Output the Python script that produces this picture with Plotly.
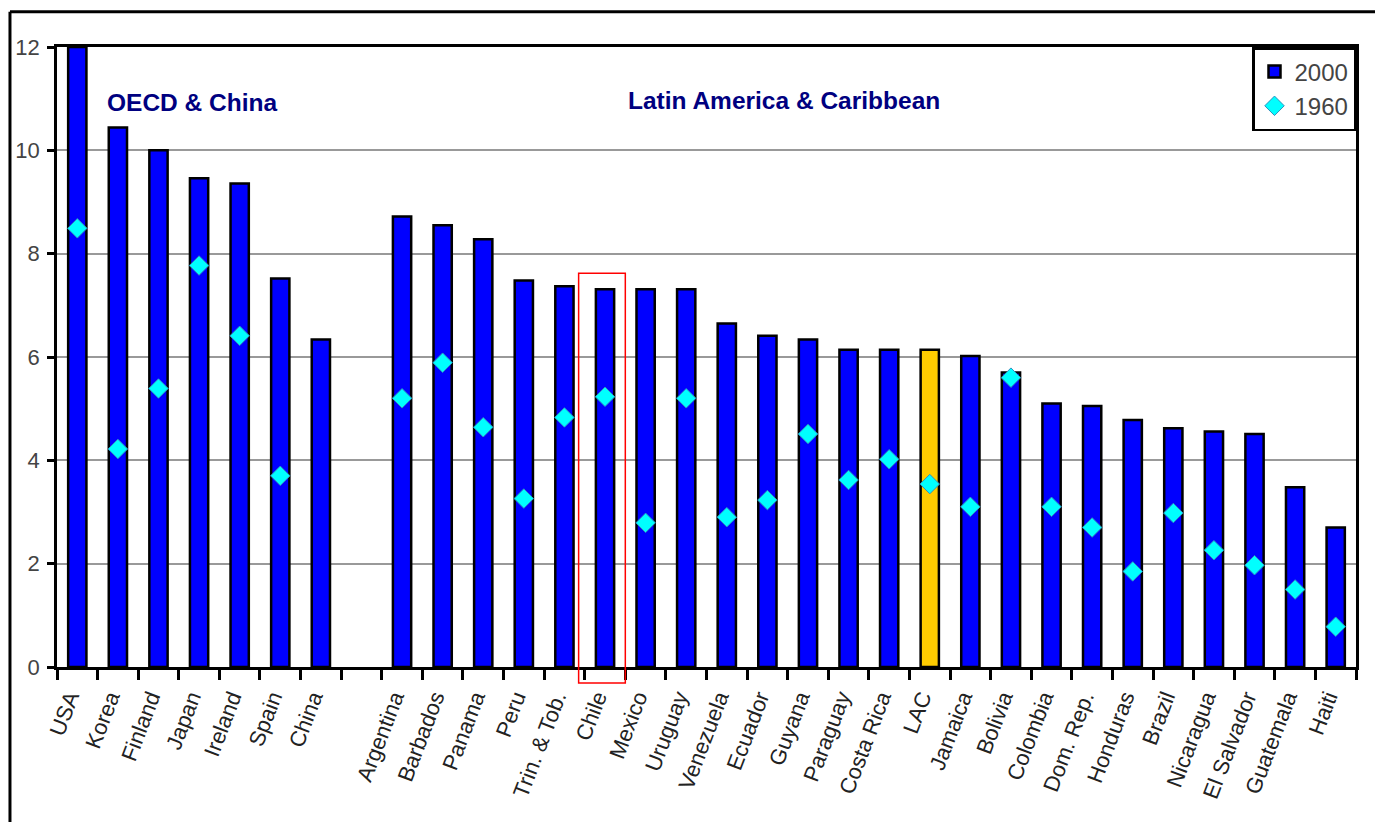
import plotly.graph_objects as go

categories = ["USA", "Korea", "Finland", "Japan", "Ireland", "Spain", "China", " ",
              "Argentina", "Barbados", "Panama", "Peru", "Trin. & Tob.", "Chile", "Mexico",
              "Uruguay", "Venezuela", "Ecuador", "Guyana", "Paraguay", "Costa Rica", "LAC",
              "Jamaica", "Bolivia", "Colombia", "Dom. Rep.", "Honduras", "Brazil",
              "Nicaragua", "El Salvador", "Guatemala", "Haiti"]

values_2000 = [12.0, 10.44, 10.0, 9.46, 9.36, 7.52, 6.34, None,
               8.72, 8.55, 8.28, 7.48, 7.37, 7.31, 7.31,
               7.31, 6.65, 6.41, 6.34, 6.14, 6.14, 6.14,
               6.02, 5.70, 5.10, 5.05, 4.78, 4.62,
               4.56, 4.51, 3.48, 2.70]

values_1960 = [8.49, 4.22, 5.39, 7.77, 6.41, 3.70, None, None,
               5.20, 5.89, 4.64, 3.26, 4.83, 5.23, 2.79,
               5.20, 2.90, 3.23, 4.51, 3.62, 4.02, 3.54,
               3.10, 5.60, 3.10, 2.70, 1.85, 2.98,
               2.26, 1.97, 1.50, 0.78]

highlight = "LAC"
boxed = "Chile"

bar_colors = ["#FFCC00" if c == highlight else "#0000FF" for c in categories]

FONT = "Arial, Liberation Sans, sans-serif"

fig = go.Figure()
fig.add_trace(go.Bar(
    x=categories, y=values_2000, name="2000",
    marker=dict(color=bar_colors, line=dict(color="black", width=2.5)),
))
fig.add_trace(go.Scatter(
    x=categories, y=values_1960, name="1960", mode="markers",
    marker=dict(symbol="diamond", size=15, color="#00FFFF",
                line=dict(color="#2f8fbf", width=1)),
))

idx = categories.index(boxed)

# page body has an 8px margin, so the figure is 8px smaller than the window
fig.update_layout(
    width=1375, height=814,
    margin=dict(l=49, r=27, t=39, b=155),
    plot_bgcolor="white", paper_bgcolor="white",
    bargap=0.55,
    showlegend=True,
    legend=dict(x=1, y=1, xanchor="right", yanchor="top",
                bgcolor="white", bordercolor="black", borderwidth=2.5,
                font=dict(family=FONT, size=24, color="#444444"),
                itemwidth=30, tracegroupgap=2),
    xaxis=dict(type="category", categoryorder="array", categoryarray=categories,
               tickson="boundaries", ticks="outside", ticklen=10, tickwidth=2.5,
               tickcolor="black", showline=True, linecolor="black", linewidth=3,
               mirror=True, tickangle=-69, showgrid=False, automargin=False,
               ticklabelstandoff=6, ticklabelshift=-8,
               tickfont=dict(family=FONT, size=22, color="#222222"),
               range=[-0.5, len(categories) - 0.5]),
    yaxis=dict(range=[0, 12], dtick=2, showgrid=True, gridcolor="#999999", gridwidth=2,
               zeroline=False, showline=True, linecolor="black", linewidth=2.5,
               mirror=True, ticks="outside", ticklen=7, tickwidth=2.5,
               tickcolor="black", ticklabelstandoff=3, automargin=False,
               tickfont=dict(family=FONT, size=22, color="#444444")),
    annotations=[
        dict(text="<b>OECD & China</b>", x=2.85, y=10.92, xref="x", yref="y",
             showarrow=False, font=dict(family=FONT, size=24.5, color="#000080")),
        dict(text="<b>Latin America & Caribbean</b>", x=17.41, y=10.96, xref="x", yref="y",
             showarrow=False, font=dict(family=FONT, size=24.5, color="#000080")),
    ],
    shapes=[
        dict(type="rect", xref="x", yref="paper", x0=idx - 0.65, x1=idx + 0.5,
             y0=-0.026, y1=0.635, line=dict(color="red", width=1.5),
             fillcolor="rgba(0,0,0,0)", layer="above"),
        dict(type="line", xref="paper", yref="paper", x0=-0.0362, x1=1.03,
             y0=1.057, y1=1.057, line=dict(color="black", width=3)),
        dict(type="line", xref="paper", yref="paper", x0=-0.0362, x1=-0.0362,
             y0=1.057, y1=-0.27, line=dict(color="black", width=3)),
    ],
)

fig.write_html("out.html")
